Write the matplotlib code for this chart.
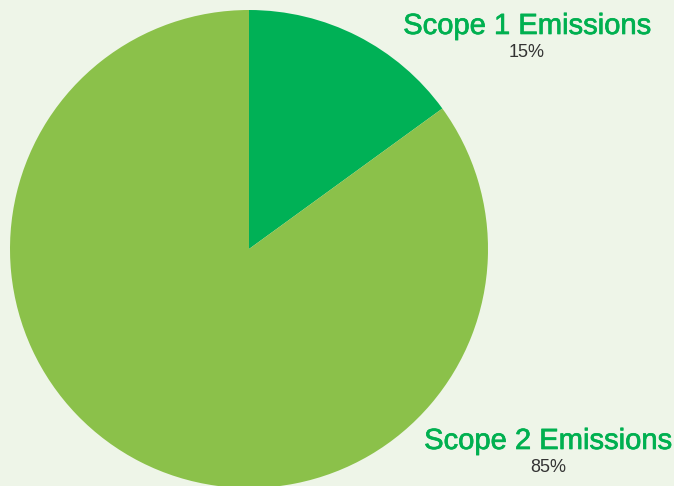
import matplotlib.pyplot as plt
import matplotlib.patheffects as pe

labels = ['Scope 1 Emissions', 'Scope 2 Emissions']
shares = [15, 85]
colors = ['#00B156', '#8BC14A']

W, H = 674, 486
bg = '#EEF5E8'
label_green = '#00B050'

fig = plt.figure(figsize=(W / 100, H / 100), dpi=100, facecolor=bg)
ax = fig.add_axes([0, 0, 1, 1])
ax.set_facecolor(bg)

# pie in pixel coordinates, y measured from the bottom
ax.pie(shares, colors=colors, startangle=90, counterclock=False,
       center=(249, H - 249), radius=239, frame=True,
       wedgeprops=dict(linewidth=0))
ax.set_xlim(0, W)
ax.set_ylim(0, H)
ax.set_aspect('equal')
ax.axis('off')

label_pos = [(527, 26), (548, 441)]
for name, val, (x, y) in zip(labels, shares, label_pos):
    ax.text(x, H - y, name, ha='center', va='center', fontsize=21,
            color=label_green, family='Liberation Sans',
            path_effects=[pe.withStroke(linewidth=0.5, foreground=label_green)])
    ax.text(x, H - y - 27, f'{val}%', ha='center', va='center', fontsize=13,
            color='#333333', family='Liberation Sans')

fig.savefig('out.png', dpi=100, facecolor=bg)
